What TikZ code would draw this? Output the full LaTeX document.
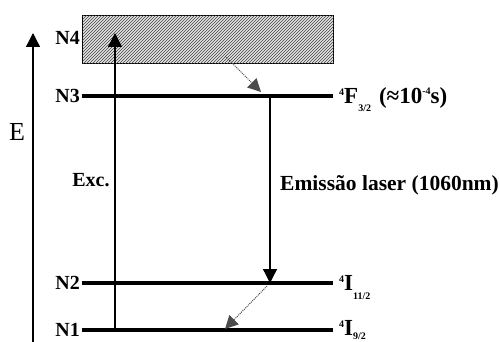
\documentclass[tikz,border=0pt]{standalone}
\usepackage{fontspec}
\setmainfont{Liberation Serif}
\usetikzlibrary{arrows.meta,patterns}

\begin{document}
\begin{tikzpicture}[x=1pt,y=-1pt,
 lev/.style={line width=4.2pt},
 lab/.style={font=\fontsize{20}{21}\selectfont\bfseries,inner sep=1pt},
 term/.style={font=\fontsize{23}{24}\selectfont\bfseries,anchor=base west,inner sep=0pt},
 a/.style={-{Triangle[length=14pt,width=14pt]},line width=1.3pt},
 d/.style={-{Triangle[length=13pt,width=13pt]},densely dotted,line width=1pt,black!70}]
\useasboundingbox (0,0) rectangle (500,342);
% energy axis
\coordinate (e0) at (33,342);
\coordinate (e1) at (33,33);
\draw[a] (e0)--(e1);
\node[font=\fontsize{26}{26}\selectfont] (elab) at (17,132) {E};
% band N4
\node[draw,line width=1.4pt,fill=gray!20,postaction={pattern=north east lines,pattern color=black!75},
 anchor=north west,minimum width=251pt,minimum height=48pt,inner sep=0pt] (band) at (82,15) {};
% levels
\coordinate (n3l) at (82,96); \coordinate (n3r) at (333,96);
\coordinate (n2l) at (82,283); \coordinate (n2r) at (333,283);
\coordinate (n1l) at (82,330); \coordinate (n1r) at (333,330);
\draw[lev] (n3l)--(n3r);
\draw[lev] (n2l)--(n2r);
\draw[lev] (n1l)--(n1r);
\node[lab,anchor=east] (n4) at (81,38) {N4};
\node[lab,anchor=east] (n3) at (81,96) {N3};
\node[lab,anchor=east] (n2) at (81,283) {N2};
\node[lab,anchor=east] (n1) at (81,330) {N1};
% terms
\node[term] (f32) at (339,103) {\raisebox{8pt}{\fontsize{10}{10}\selectfont 4}F\raisebox{-9pt}{\fontsize{10}{10}\selectfont 3/2}\hspace{8pt}(≈10\raisebox{9pt}{\fontsize{10}{10}\selectfont -4}s)};
\node[term] (i112) at (339,290) {\raisebox{8pt}{\fontsize{10}{10}\selectfont 4}I\raisebox{-9pt}{\fontsize{10}{10}\selectfont 11/2}};
\node[term] (i92) at (339,335) {\raisebox{8pt}{\fontsize{10}{10}\selectfont 4}I\raisebox{-4pt}{\fontsize{10}{10}\selectfont 9/2}};
% transitions
\coordinate (x0) at (115,330); \coordinate (x1) at (115,33);
\draw[a] (x0)--(x1);
\node[lab] (exc) at (91,180) {Exc.};
\coordinate (l0) at (270,96); \coordinate (l1) at (270,283);
\draw[a] (l0)--(l1);
\node[lab,anchor=west,font=\fontsize{21.5}{22}\selectfont\bfseries] (emis) at (279,185) {Emissão laser (1060nm)};
\coordinate (r0) at (225,56); \coordinate (r1) at (261,92);
\draw[d] (r0)--(r1);
\coordinate (s0) at (267,286); \coordinate (s1) at (225,329);
\draw[d] (s0)--(s1);
\end{tikzpicture}
\end{document}
